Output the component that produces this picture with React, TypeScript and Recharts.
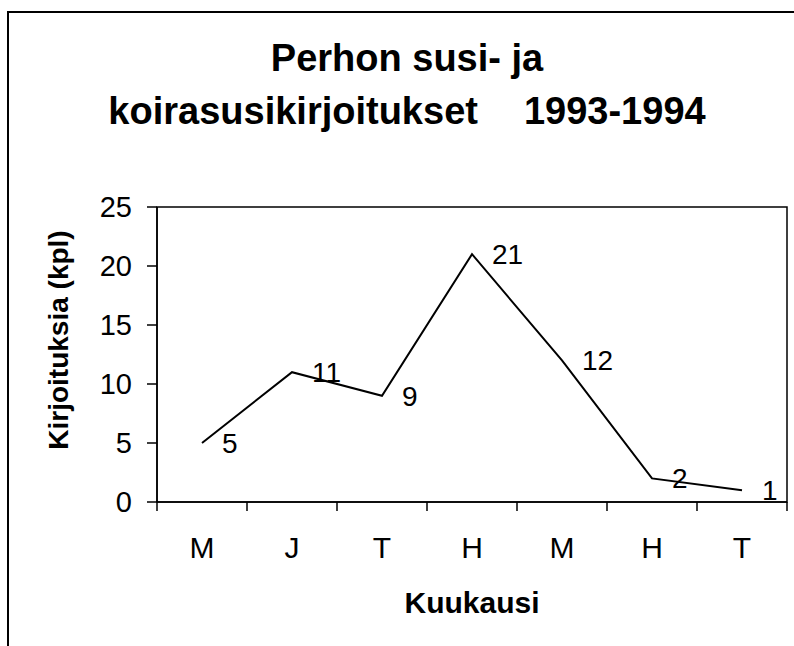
import React from "react"
import { LineChart, Line, XAxis, YAxis, ReferenceArea, LabelList, Label } from "recharts"

const months = ["M", "J", "T", "H", "M", "H", "T"]
const counts = [5, 11, 9, 21, 12, 2, 1]
const yTicks = [0, 5, 10, 15, 20, 25]

const FONT = "'Liberation Sans', Arial, Helvetica, sans-serif"

const data = months.map((m, i) => ({ month: m, pos: i + 0.5, count: counts[i] }))

// boundaries get a tick mark, centres get the month letter
const xTicks: number[] = []
for (let i = 0; i <= months.length; i++) {
  xTicks.push(i)
  if (i < months.length) xTicks.push(i + 0.5)
}

function MonthTick(props: any) {
  const { x, y, payload } = props
  const v = payload.value
  if (Number.isInteger(v)) {
    return <line x1={x} y1={y} x2={x} y2={y + 9} stroke="#000" strokeWidth={1.5} />
  }
  return (
    <text x={x} y={y + 56} textAnchor="middle" fontSize={30} fontFamily={FONT} fill="#000">
      {months[Math.floor(v)]}
    </text>
  )
}

function ValueLabel(props: any) {
  const { x, y, value } = props
  return (
    <text x={x + 20} y={y} dy="0.355em" textAnchor="start" fontSize={28} fontFamily={FONT} fill="#000">
      {value}
    </text>
  )
}

export default function App() {
  return (
    <div
      style={{
        position: "absolute",
        left: 0,
        top: 0,
        width: 794,
        height: 646,
        overflow: "hidden",
        background: "#fff",
        fontFamily: FONT,
      }}
    >
      <div
        style={{
          position: "absolute",
          left: 7,
          top: 11,
          width: 820,
          height: 700,
          borderLeft: "2px solid #000",
          borderTop: "2px solid #000",
        }}
      />
      <div
        style={{
          position: "absolute",
          left: 0,
          width: 814,
          top: 32,
          textAlign: "center",
          fontSize: 38,
          fontWeight: 700,
          lineHeight: "53px",
          color: "#000",
        }}
      >
        <div>Perhon susi- ja</div>
        <div>
          <span>koirasusikirjoitukset</span>
          <span style={{ marginLeft: 46 }}>1993-1994</span>
        </div>
      </div>
      <div style={{ position: "absolute", left: 0, top: 0 }}>
        <LineChart width={794} height={646} data={data} margin={{ top: 207, right: 7, bottom: 84, left: 97 }}>
          <XAxis
            type="number"
            dataKey="pos"
            domain={[0, months.length]}
            ticks={xTicks}
            interval={0}
            tick={<MonthTick />}
            tickLine={false}
            tickSize={0}
            tickMargin={0}
            axisLine={{ stroke: "#000", strokeWidth: 1.5 }}
            height={60}
          >
            <Label
              content={(p: any) => {
                const vb = p.viewBox
                return (
                  <text
                    x={vb.x + vb.width / 2}
                    y={613}
                    textAnchor="middle"
                    fontSize={30}
                    fontWeight={700}
                    fontFamily={FONT}
                    fill="#000"
                  >
                    Kuukausi
                  </text>
                )
              }}
            />
          </XAxis>
          <YAxis
            type="number"
            domain={[0, 25]}
            ticks={yTicks}
            interval={0}
            width={60}
            tickSize={10}
            tickMargin={15}
            tickLine={{ stroke: "#000", strokeWidth: 1.5 }}
            axisLine={{ stroke: "#000", strokeWidth: 1.5 }}
            tick={{ fill: "#000", fontSize: 29, fontFamily: FONT }}
          >
            <Label
              content={() => (
                <text
                  x={58}
                  y={340}
                  transform="rotate(-90 58 340)"
                  textAnchor="middle"
                  dy="0.355em"
                  fontSize={28}
                  fontWeight={700}
                  fontFamily={FONT}
                  fill="#000"
                >
                  Kirjoituksia (kpl)
                </text>
              )}
            />
          </YAxis>
          <ReferenceArea x1={0} x2={months.length} y1={0} y2={25} fill="none" stroke="#000" strokeWidth={1.5} />
          <Line
            type="linear"
            dataKey="count"
            stroke="#000"
            strokeWidth={2}
            dot={false}
            isAnimationActive={false}
          >
            <LabelList dataKey="count" content={<ValueLabel />} />
          </Line>
        </LineChart>
      </div>
    </div>
  )
}
